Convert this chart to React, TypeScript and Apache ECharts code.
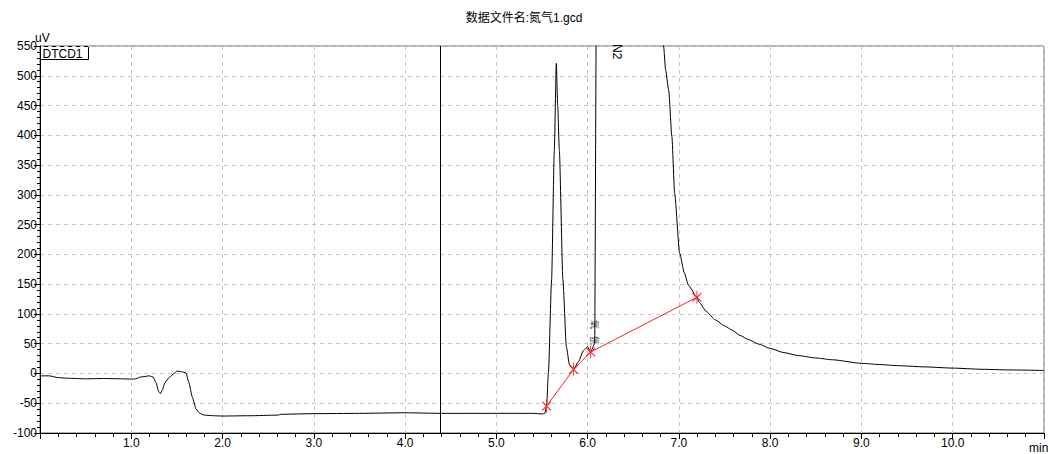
import React, { useEffect, useRef } from "react";
import * as echarts from "echarts";

const titleText = "数据文件名:氮气1.gcd";
const channelName = "DTCD1";
const yUnit = "uV";
const xUnit = "min";

// chromatogram signal [time(min), uV]
const signalTime = [
  0, 0.1, 0.2, 0.3, 0.5, 0.7, 0.9, 1.0, 1.05, 1.1, 1.2, 1.24, 1.27, 1.3, 1.32, 1.34, 1.37, 1.42, 1.47, 1.5,
  1.55, 1.6, 1.63, 1.67, 1.71, 1.75, 1.8, 1.9, 2.0, 2.3, 2.6, 2.65, 3.0, 3.5, 4.0, 4.4, 5.0, 5.4, 5.5, 5.53,
  5.55, 5.57, 5.605, 5.635, 5.657, 5.672, 5.69, 5.729, 5.767, 5.8, 5.846, 5.9, 5.956, 6.0, 6.033, 6.077, 6.095,
  6.12, 6.45, 6.8, 6.832, 6.854, 6.888, 6.923, 6.953, 7.008, 7.059, 7.105, 7.197, 7.22, 7.3, 7.4, 7.5, 7.58,
  7.67, 7.76, 7.88, 8.0, 8.15, 8.31, 8.5, 8.68, 9.0, 9.2, 9.41, 9.7, 10.0, 10.32, 10.6, 11.0,
];
const signalValue = [
  -4, -4, -7, -8, -9, -8.5, -9, -9.5, -9, -6, -4, -6, -15, -30, -34, -28, -15, -6, 0, 4,
  3, 1, -15, -40, -60, -67, -70, -71, -71.5, -71, -70, -68.5, -67.5, -67, -66, -67, -67, -67, -68, -67,
  -55, 0, 157, 375, 521, 450, 375, 157, 45, 15, 7, 20, 39, 45, 36, 50, 600,
  1500, 3000, 700, 550, 510, 476, 398, 303, 202, 169, 148, 128, 120, 104, 90, 80, 73,
  64, 57, 49, 42, 35, 30, 26, 23, 17, 15, 13, 11, 9, 7, 6, 5,
];

// integration baseline points
const baseTime = [5.55, 5.846, 6.033, 7.197];
const baseValue = [-55, 7, 36, 128];

const eventTime = 4.38;

const peakLabels = ["N2", "氧", "氩"];

const yTicks = { min: -100, max: 550, interval: 50 };
const xTicks = { min: 0, max: 11, interval: 1 };

const FONT = "'Liberation Sans', Arial, 'Noto Sans CJK SC', sans-serif";

export default function App() {
  const ref = useRef<HTMLDivElement>(null);
  useEffect(() => {
    if (!ref.current) return;
    const chart = echarts.init(ref.current, undefined, { renderer: "svg" });
    const signal = signalTime.map((t, i) => [t, signalValue[i]]);
    const base = baseTime.map((t, i) => [t, baseValue[i]]);
    chart.setOption({
      animation: false,
      backgroundColor: "#fff",
      textStyle: { fontFamily: FONT },
      title: {
        text: titleText,
        left: "center",
        top: 7,
        textStyle: { fontSize: 12, fontWeight: "normal", color: "#000", fontFamily: FONT },
      },
      grid: {
        left: 40,
        right: 4,
        top: 46,
        bottom: 21,
        show: true,
        borderColor: "#666",
        borderWidth: 1,
        backgroundColor: "transparent",
      },
      xAxis: {
        type: "value",
        min: xTicks.min,
        max: xTicks.max,
        interval: xTicks.interval,
        axisLine: { show: true, onZero: false, lineStyle: { color: "#000", width: 1 } },
        axisTick: { show: true, length: 6, inside: false, lineStyle: { color: "#000" } },
        minorTick: { show: true, splitNumber: 5, length: 4, lineStyle: { color: "#000" } },
        axisLabel: {
          color: "#000",
          fontSize: 12,
          fontFamily: FONT,
          margin: 4,
          showMinLabel: false,
          showMaxLabel: false,
          formatter: (v: number) => v.toFixed(1),
        },
        splitLine: { show: true, lineStyle: { color: "#c8c8c8", type: [4, 4], width: 1 } },
      },
      yAxis: {
        type: "value",
        min: yTicks.min,
        max: yTicks.max,
        interval: yTicks.interval,
        axisLine: { show: true, onZero: false, lineStyle: { color: "#000", width: 1 } },
        axisTick: { show: true, length: 6, inside: false, lineStyle: { color: "#000" } },
        minorTick: { show: true, splitNumber: 5, length: 3, lineStyle: { color: "#000" } },
        axisLabel: { color: "#000", fontSize: 12, fontFamily: FONT, margin: 3 },
        splitLine: { show: true, lineStyle: { color: "#c8c8c8", type: [4, 4], width: 1 } },
      },
      series: [
        {
          type: "line",
          data: signal,
          showSymbol: false,
          symbol: "none",
          smooth: 0.2,
          smoothMonotone: "x",
          clip: true,
          lineStyle: { color: "#000", width: 1 },
          markLine: {
            silent: true,
            symbol: ["none", "none"],
            label: { show: false },
            lineStyle: { color: "#000", width: 1, type: "solid" },
            data: [{ xAxis: eventTime }],
          },
          z: 3,
        },
        {
          type: "line",
          data: base,
          symbol: "path://M5 0 L5 12 M0 2 L10 10 M0 10 L10 2",
          symbolSize: [9, 13],
          showSymbol: true,
          itemStyle: { color: "transparent", borderColor: "#ff2020", borderWidth: 1 },
          lineStyle: { color: "#ff2020", width: 1 },
          z: 4,
        },
      ],
      graphic: [
        {
          type: "text",
          left: 35,
          top: 32,
          style: { text: yUnit, fontSize: 12, fill: "#000", fontFamily: FONT },
        },
        {
          type: "group",
          left: 40,
          top: 46,
          children: [
            { type: "rect", shape: { x: 0, y: 0, width: 48, height: 13 }, style: { fill: "#fff", stroke: "#000", lineWidth: 1 } },
            { type: "text", x: 2, y: 1, style: { text: channelName, fontSize: 12, fill: "#000", fontFamily: FONT } },
          ],
        },
        {
          type: "text",
          x: 1029,
          y: 442,
          style: { text: xUnit, fontSize: 12, fill: "#000", fontFamily: FONT },
        },
        {
          type: "text",
          x: 617,
          y: 44,
          rotation: -Math.PI / 2,
          style: { text: peakLabels[0], fontSize: 12, fill: "#000", fontFamily: FONT, verticalAlign: "middle" },
        },
        {
          type: "text",
          x: 594,
          y: 320,
          rotation: -Math.PI / 2,
          style: { text: peakLabels[1], fontSize: 9, fill: "#444", fontFamily: FONT, verticalAlign: "middle" },
        },
        {
          type: "text",
          x: 594,
          y: 336,
          rotation: -Math.PI / 2,
          style: { text: peakLabels[2], fontSize: 9, fill: "#444", fontFamily: FONT, verticalAlign: "middle" },
        },
      ],
    });
    return () => chart.dispose();
  }, []);
  return <div ref={ref} style={{ position: "fixed", left: 0, top: 0, width: 1048, height: 454 }} />;
}
